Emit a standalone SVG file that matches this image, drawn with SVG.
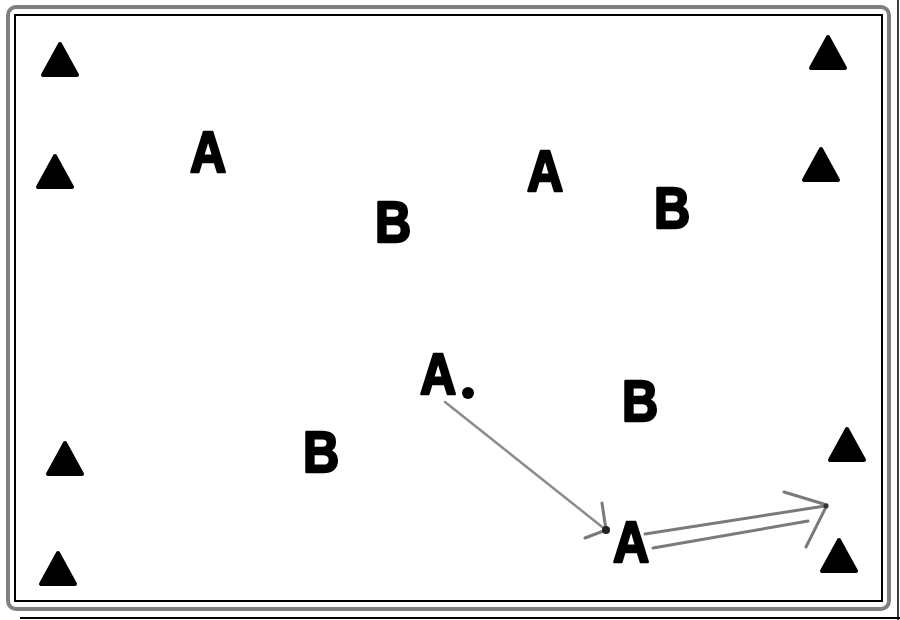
<svg xmlns="http://www.w3.org/2000/svg" width="900" height="620" viewBox="0 0 900 620">
<style>
.lbl{font-family:"Liberation Sans",Arial,sans-serif;font-weight:bold;font-size:57px;fill:#000;stroke:#000;stroke-width:2.5;stroke-linejoin:round;text-anchor:middle}
.tri{fill:#000;stroke:#000;stroke-width:4;stroke-linejoin:round}
.arr{fill:none;stroke:#7a7a7a;stroke-width:3;stroke-linecap:round;stroke-linejoin:round}
.arr1{fill:none;stroke:#8c8c8c;stroke-width:2.5;stroke-linecap:round;stroke-linejoin:round}
</style>
<defs>
<path id="tri" class="tri" d="M0,2 L-17,33 L17,33 Z"/>
</defs>
<rect width="900" height="620" fill="#fff"/>
<g id="frame">
<rect x="8" y="7" width="881" height="602" rx="8" fill="none" stroke="#808080" stroke-width="4"/>
<rect x="15" y="15" width="867" height="586" fill="none" stroke="#000" stroke-width="2"/>
<line x1="20" y1="618" x2="900" y2="618" stroke="#000" stroke-width="2"/>
<line x1="898" y1="0" x2="898" y2="620" stroke="#000" stroke-width="1.5"/>
</g>
<g id="cones">
<use href="#tri" x="60" y="42"/>
<use href="#tri" x="55" y="154"/>
<use href="#tri" x="65" y="441"/>
<use href="#tri" x="58" y="551"/>
<use href="#tri" x="828" y="35"/>
<use href="#tri" x="821" y="147"/>
<use href="#tri" x="847" y="427"/>
<use href="#tri" x="839" y="538"/>
</g>
<g id="players">
<g id="A1"><text class="lbl" transform="translate(208,172) scale(0.88,1)">A</text></g>
<g id="B1"><text class="lbl" transform="translate(393,242) scale(0.88,1)">B</text></g>
<g id="A2"><text class="lbl" transform="translate(545,191) scale(0.88,1)">A</text></g>
<g id="B2"><text class="lbl" transform="translate(672,228) scale(0.88,1)">B</text></g>
<g id="A3"><text class="lbl" transform="translate(438,394) scale(0.88,1)">A</text><circle cx="468" cy="393" r="6" fill="#000"/></g>
<g id="B3"><text class="lbl" transform="translate(640,421) scale(0.88,1)">B</text></g>
<g id="B4"><text class="lbl" transform="translate(321,472) scale(0.88,1)">B</text></g>
<g id="A4"><text class="lbl" transform="translate(631,562) scale(0.88,1)">A</text></g>
</g>
<g id="connectors">
<path class="arr1" d="M445,402 L606,530"/>
<path class="arr" d="M602,503 L606,530 L585,538"/>
<circle cx="606" cy="530" r="4" fill="#222"/>
<path class="arr" d="M645,534 L825,506"/>
<path class="arr" d="M653,548 L808,521"/>
<path class="arr" d="M784,492 L827,505 L806,547"/>
<circle cx="826" cy="506" r="2.5" fill="#333"/>
</g>
</svg>
